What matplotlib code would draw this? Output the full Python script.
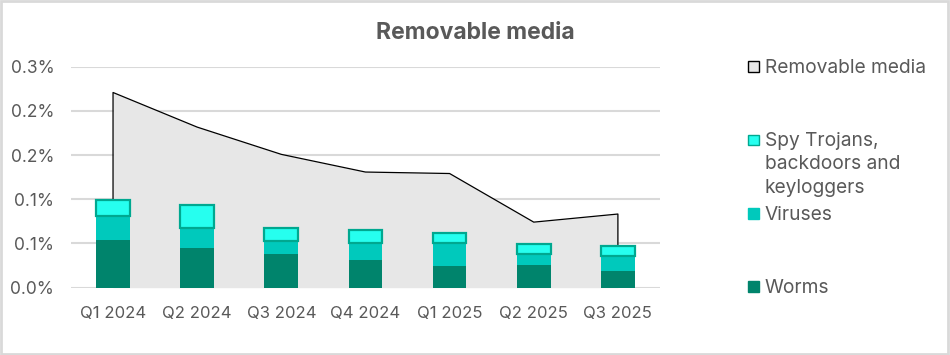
import matplotlib
matplotlib.use('Agg')
import matplotlib.pyplot as plt
from matplotlib.patches import Rectangle
from matplotlib.ticker import FuncFormatter, MultipleLocator
import numpy as np

quarters = ['Q1 2024', 'Q2 2024', 'Q3 2024', 'Q4 2024', 'Q1 2025', 'Q2 2025', 'Q3 2025']
removable = [0.265, 0.218, 0.181, 0.157, 0.155, 0.089, 0.100]
worms = [0.065, 0.054, 0.046, 0.038, 0.030, 0.031, 0.023]
viruses = [0.033, 0.027, 0.018, 0.023, 0.031, 0.015, 0.020]
spy = [0.021, 0.031, 0.017, 0.017, 0.013, 0.013, 0.014]

TXT = '#595959'
C_AREA = '#e7e7e7'
C_WORMS = '#00846c'
C_VIR = '#00c9bc'
C_SPY = '#26ffef'
C_SPY_EDGE = '#00a890'

plt.rcParams['font.family'] = ['Inter', 'DejaVu Sans']

fig = plt.figure(figsize=(9.5, 3.55), dpi=100)
fig.patch.set_facecolor('white')
ax = fig.add_axes([0.0747, 0.1896, 0.62, 0.6225])

x = np.arange(len(quarters))
# area behind the bars
ax.fill_between(x, 0, removable, color=C_AREA, lw=0, zorder=1)
ax.plot(np.r_[x[0], x, x[-1]], np.r_[0, removable, 0], color='black', lw=0.9, zorder=1.5)

w = 0.4
b1 = np.array(worms)
b2 = b1 + np.array(viruses)
ax.bar(x, worms, w, color=C_WORMS, zorder=3)
ax.bar(x, viruses, w, bottom=b1, color=C_VIR, zorder=3)
ax.bar(x, spy, w, bottom=b2, color=C_SPY, edgecolor=C_SPY_EDGE, lw=1.6, zorder=3)

ax.set_xlim(-0.5, len(quarters) - 0.5)
ax.set_ylim(0, 0.3)
ax.yaxis.set_major_locator(MultipleLocator(0.06))
ax.yaxis.set_major_formatter(FuncFormatter(lambda v, p: f'{v:.1f}%'))
ax.set_xticks(x)
ax.set_xticklabels(quarters)
ax.grid(axis='y', color='#d9d9d9', lw=1.5, zorder=0)
ax.set_axisbelow(True)
for s in ax.spines.values():
    s.set_visible(False)
ax.tick_params(axis='y', length=0, labelsize=12.5, colors=TXT, pad=12)
ax.tick_params(axis='x', length=0, labelsize=12, colors=TXT, pad=13)

fig.text(0.5, 1 - 33 / 355, 'Removable media', ha='center', va='center',
         fontsize=16.5, fontweight='bold', color=TXT)

# legend, placed by hand like the original
leg = [
    ('Removable media', C_AREA, 'black', 66.7),
    ('Spy Trojans,\nbackdoors and\nkeyloggers', C_SPY, C_SPY_EDGE, 140),
    ('Viruses', C_VIR, C_VIR, 214),
    ('Worms', C_WORMS, C_WORMS, 286.7),
]
for label, fc, ec, ypx in leg:
    fy = 1 - ypx / 355
    fig.patches.append(Rectangle((748 / 950, fy - 5.5 / 355), 11 / 950, 11 / 355,
                                 transform=fig.transFigure, facecolor=fc,
                                 edgecolor=ec, lw=1.0))
    fig.text(765 / 950, fy + 8 / 355, label, ha='left', va='top', fontsize=13.8,
             color=TXT, linespacing=1.38)

# light frame round the whole chart
fig.patches.append(Rectangle((0.001, 0.003), 0.997, 0.994, transform=fig.transFigure,
                             fill=False, edgecolor='#d9d9d9', lw=2))

fig.savefig('out.png', dpi=100)
